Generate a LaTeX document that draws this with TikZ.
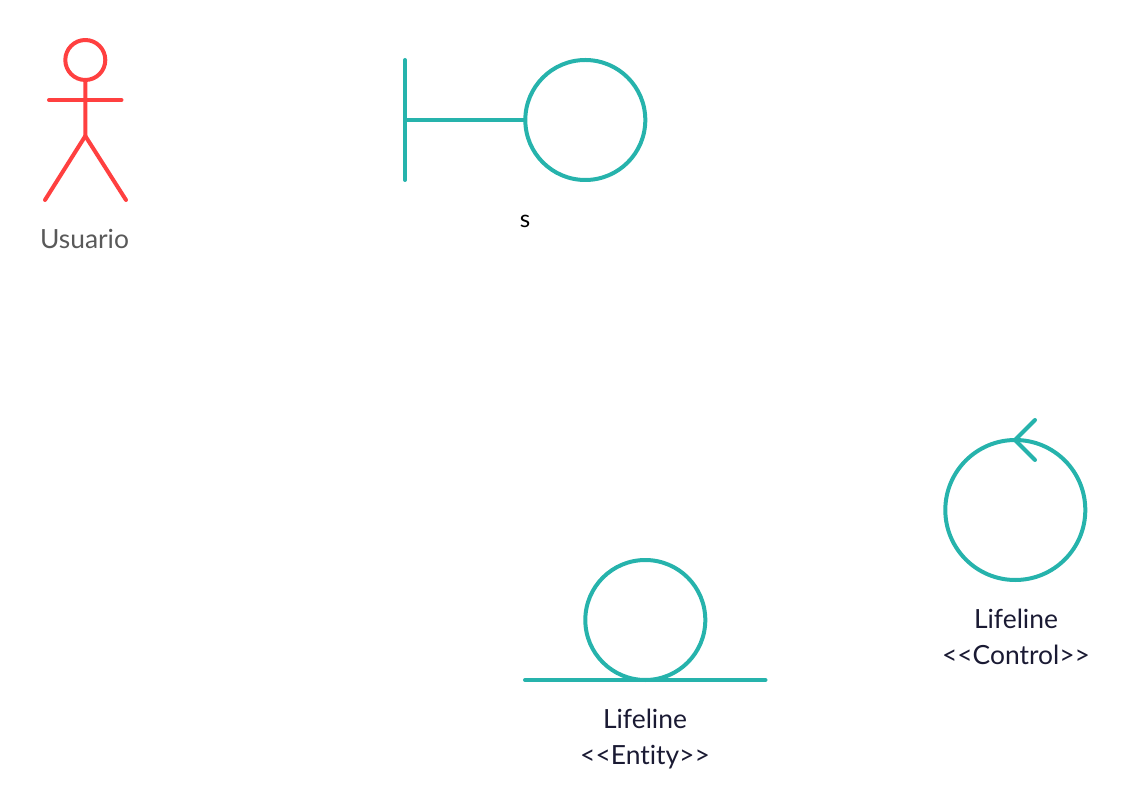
\documentclass[tikz,border=0pt]{standalone}
\usepackage{fontspec}
\setmainfont[Ligatures=NoCommon]{Lato}
\definecolor{teal1}{HTML}{26B3AC}
\definecolor{red1}{HTML}{FF4040}
\definecolor{txtdark}{HTML}{1A1A33}
\definecolor{txtgray}{HTML}{595959}
\tikzset{x=0.75pt,y=-0.75pt,
 tealline/.style={draw=teal1,line width=3pt,line cap=round,line join=round},
 redline/.style={draw=red1,line width=3pt,line cap=round,line join=round},
 lbl/.style={font=\fontsize{19.8pt}{27pt}\selectfont,text=txtdark,align=center,inner sep=0pt},
 lblg/.style={font=\fontsize{19.8pt}{27pt}\selectfont,text=txtgray,align=center,inner sep=0pt}}
\begin{document}
\begin{tikzpicture}
\useasboundingbox (0,0) rectangle (1131,812);
% actor
\draw[redline] (85.3,60) circle[radius=20];
\draw[redline] (85.3,80) -- (85.3,136) -- (45,200);
\draw[redline] (85.3,136) -- (126,200);
\draw[redline] (49,100) -- (121.5,100);
\node[lblg] (actor) at (84.5,239) {Usuario};
% boundary
\draw[tealline] (585.3,120) circle[radius=60];
\draw[tealline] (405,60) -- (405,180);
\draw[tealline] (405,120) -- (525,120);
\node[lbl,font=\fontsize{18pt}{24pt}\selectfont,text=black] (bnd) at (525,221) {s};
% entity
\draw[tealline] (645.3,620) circle[radius=60];
\draw[tealline] (525,680) -- (765.5,680);
\node[lbl] (ent) at (645,739.5) {Lifeline\\<{}<Entity>{}>};
% control
\draw[tealline] (1015.3,510) circle[radius=70];
\draw[tealline] (1035,420) -- (1015,440) -- (1035,460);
\node[lbl] (ctl) at (1016,637) {Lifeline\\<{}<Control>{}>};
\end{tikzpicture}
\end{document}
